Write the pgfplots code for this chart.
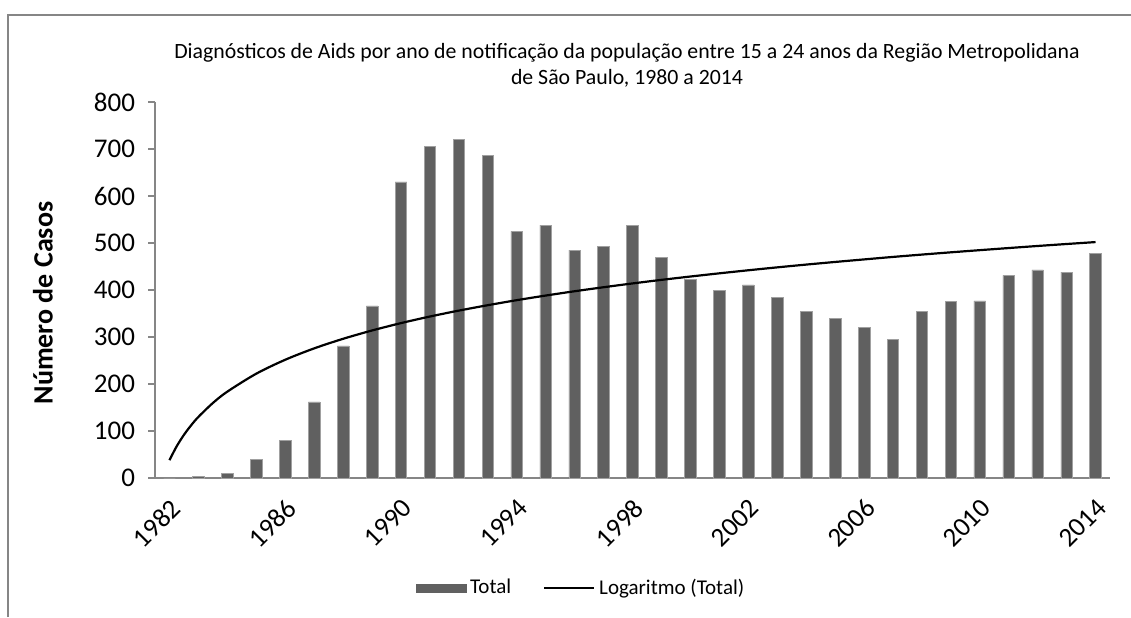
\documentclass[border=0pt]{standalone}
\usepackage{fontspec}
\setmainfont{Carlito}
\usepackage{pgfplots}
\pgfplotsset{compat=1.18}

\definecolor{barfill}{RGB}{96,96,96}
\definecolor{baredge}{RGB}{160,160,160}
\definecolor{axgray}{RGB}{134,134,134}

\begin{document}
\begin{tikzpicture}
\useasboundingbox (0,0) rectangle (565.5pt,308.5pt);
% chart frame (only top and left edges visible)
\draw[axgray, line width=1pt] (4pt,0) -- (4pt,301pt) -- (565.5pt,301pt);

\node[align=center, font=\fontsize{10.9}{13}\selectfont] at (313.5pt,276pt)
  {Diagnósticos de Aids por ano de notificação da população entre 15 a 24 anos da Região Metropolidana\\de São Paulo, 1980 a 2014};
\node[rotate=90, font=\fontsize{14}{17}\selectfont\bfseries] at (21.5pt,157pt) {Número de Casos};

\begin{axis}[
  at={(77.5pt,69.5pt)}, anchor=south west,
  scale only axis, width=477.5pt, height=188pt,
  xmin=1981.5, xmax=2014.5, ymin=0, ymax=800,
  axis x line*=bottom, axis y line*=left,
  axis line style={axgray, line width=0.8pt},
  ytick={0,100,...,800},
  xtick={1982,1986,...,2014},
  xticklabels={1982,1986,1990,1994,1998,2002,2006,2010,2014},
  xtick style={draw=none},
  ytick style={axgray, line width=0.8pt},
  tick align=outside, major tick length=3.5pt,
  /pgf/number format/assume math mode=true,
  tick label style={font=\fontsize{13.5}{16}\selectfont},
  yticklabel style={xshift=-3pt},
  xticklabel style={rotate=45, anchor=north east, inner sep=1pt},
  xticklabel shift=4.5pt,
  legend style={at={(axis description cs:0.447,-0.293)}, anchor=center, draw=none,
    legend columns=2, font=\fontsize{10.5}{12}\selectfont,
    /tikz/every even column/.append style={column sep=14pt}},
  clip=false,
]
\addplot[ybar, bar width=0.4, fill=barfill, draw=baredge, line width=0.3pt,
  legend image code/.code={\fill[barfill] (0pt,-2pt) rectangle (25pt,2pt);}]
  coordinates {
  (1982,0) (1983,3) (1984,9) (1985,39) (1986,80) (1987,162) (1988,281)
  (1989,366) (1990,630) (1991,706) (1992,720) (1993,687) (1994,525)
  (1995,538) (1996,485) (1997,493) (1998,537) (1999,470) (2000,423)
  (2001,399) (2002,411) (2003,385) (2004,354) (2005,339) (2006,321)
  (2007,295) (2008,354) (2009,376) (2010,377) (2011,431) (2012,443)
  (2013,438) (2014,478)
  };
\addlegendentry{Total}

\addplot[smooth, black, line width=1.1pt, mark=none,
  legend image code/.code={\draw[black, line width=1pt] (0pt,0pt) -- (25pt,0pt);}]
  coordinates {
  (1982,38) (1982.25,67.6) (1982.5,91.8) (1982.75,112.3) (1983,130)
  (1983.5,159.6) (1984,183.8) (1985,222) (1986,251.6) (1987,275.8)
  (1988,296.2) (1989,313.9) (1990,329.6) (1991,343.6) (1992,356.2)
  (1993,367.7) (1994,378.4) (1995,388.2) (1996,397.4) (1997,405.9)
  (1998,414) (1999,421.6) (2000,428.7) (2001,435.5) (2002,442)
  (2003,448.2) (2004,454.1) (2005,459.7) (2006,465.1) (2007,470.4)
  (2008,475.4) (2009,480.2) (2010,484.8) (2011,489.3) (2012,493.7)
  (2013,497.9) (2014,502)
  };
\addlegendentry{Logaritmo (Total)}
\end{axis}
\end{tikzpicture}
\end{document}
